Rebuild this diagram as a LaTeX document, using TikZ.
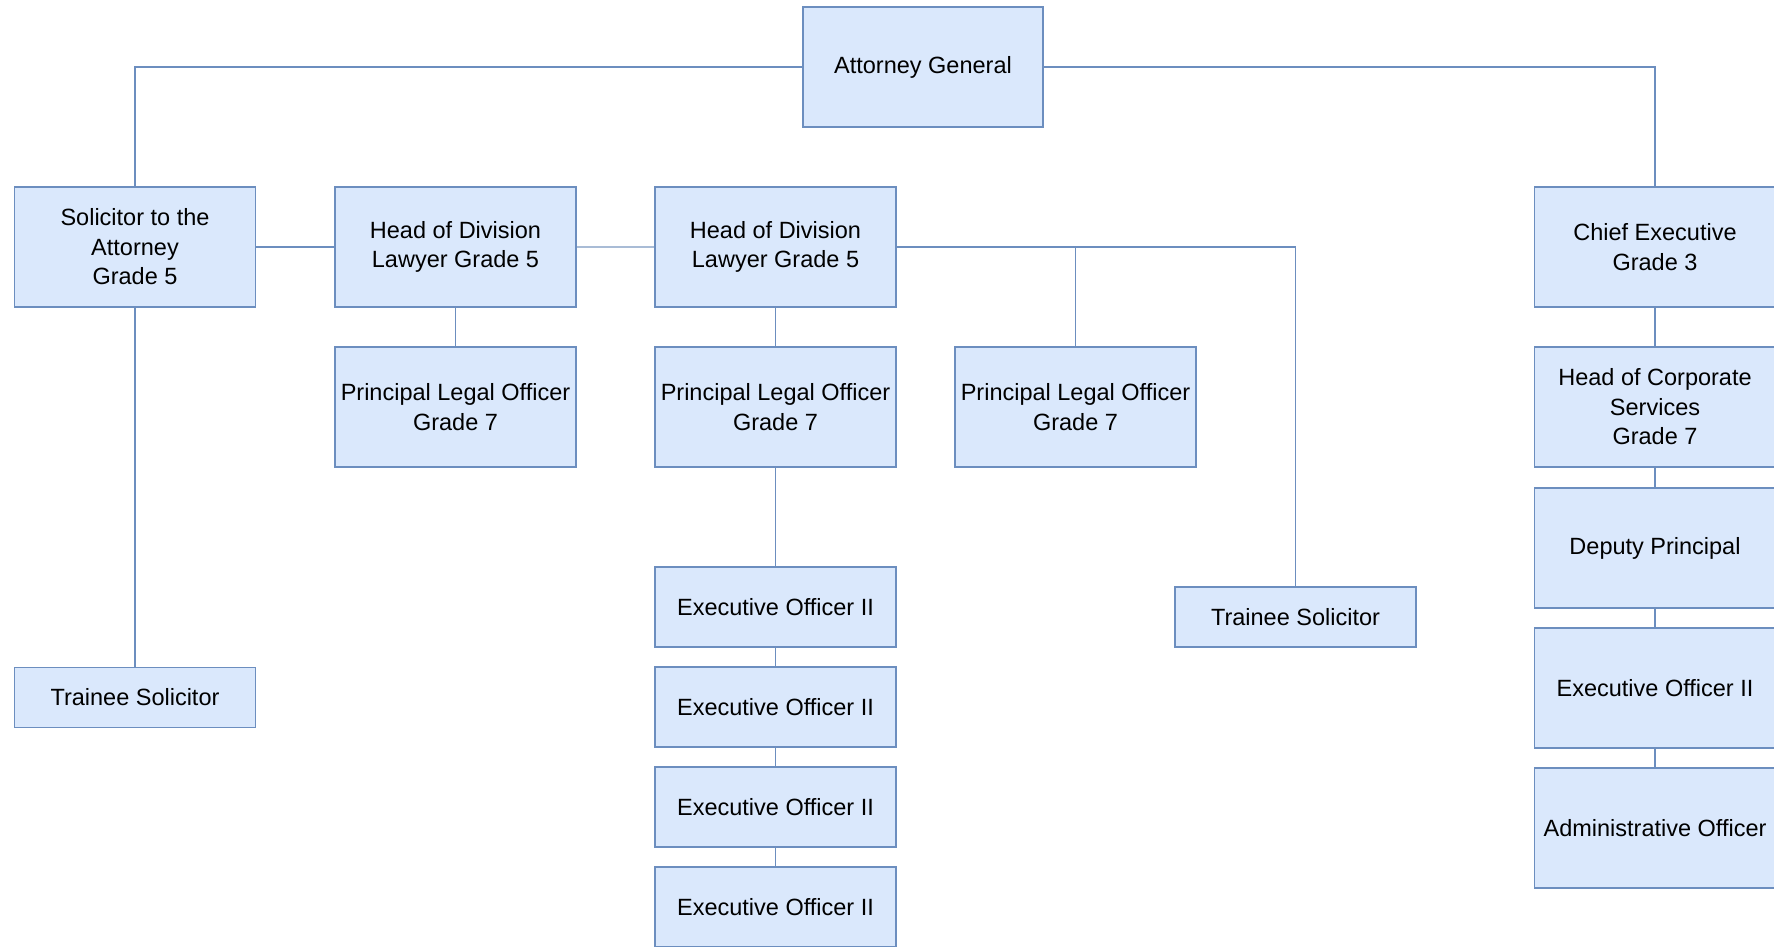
\documentclass[tikz,border=0pt]{standalone}
\usepackage{fontspec}
\setmainfont{Liberation Sans}
\definecolor{fillc}{HTML}{DAE8FC}
\definecolor{bordc}{HTML}{6C8EBF}
\definecolor{softc}{HTML}{A9BCD6}
\begin{document}
\begin{tikzpicture}[x=1pt,y=-1pt,
  box/.style={draw=bordc, fill=fillc, line width=1.5pt, align=center, inner sep=0pt,
    font=\fontsize{23.5}{29.5}\selectfont, text=black, minimum width=241pt, minimum height=120pt},
  shortbox/.style={box, minimum height=80pt},
  flatbox/.style={box, minimum height=60pt},
  link/.style={draw=bordc, line width=1.5pt},
  softlink/.style={draw=softc, line width=2.5pt}]
\useasboundingbox (0,0) rectangle (1774,947);
\fill[white] (0,0) rectangle (1774,947);
\clip (0,0) rectangle (1774,947);

\node[box, minimum width=240pt] (ag) at (923,67) {Attorney General};
\node[box] (sol) at (135,247) {Solicitor to the\\Attorney\\Grade 5};
\node[box] (hod1) at (455.5,247) {Head of Division\\Lawyer Grade 5};
\node[box] (hod2) at (775.5,247) {Head of Division\\Lawyer Grade 5};
\node[box] (ce) at (1655,247) {Chief Executive\\Grade 3};

\node[box] (plo1) at (455.5,407) {Principal Legal Officer\\Grade 7};
\node[box] (plo2) at (775.5,407) {Principal Legal Officer\\Grade 7};
\node[box] (plo3) at (1075.5,407) {Principal Legal Officer\\Grade 7};
\node[box] (hocs) at (1655,407) {Head of Corporate\\Services\\Grade 7};

\node[shortbox] (eo1) at (775.5,607) {Executive Officer II};
\node[shortbox] (eo2) at (775.5,707) {Executive Officer II};
\node[shortbox] (eo3) at (775.5,807) {Executive Officer II};
\node[shortbox] (eo4) at (775.5,907) {Executive Officer II};

\node[flatbox] (trl) at (135,697.5) {Trainee Solicitor};
\node[flatbox] (trr) at (1295.5,617) {Trainee Solicitor};

\node[box] (dp) at (1655,548) {Deputy Principal};
\node[box] (eor) at (1655,688) {Executive Officer II};
\node[box] (adm) at (1655,828) {Administrative Officer};

\draw[link] (ag.west) -| (sol.north);
\draw[link] (ag.east) -| (ce.north);
\draw[link] (sol.east) -- (hod1.west);
\draw[softlink] (hod1.east) -- (hod2.west);
\draw[link] (hod2.east) -| (trr.north);
\draw[link] (plo3.north) -- (plo3.north |- hod2.east);
\draw[link] (sol.south) -- (trl.north);
\draw[link] (hod1.south) -- (plo1.north);
\draw[link] (hod2.south) -- (plo2.north);
\draw[link] (plo2.south) -- (eo1.north);
\draw[link] (eo1.south) -- (eo2.north);
\draw[link] (eo2.south) -- (eo3.north);
\draw[link] (eo3.south) -- (eo4.north);
\draw[link] (ce.south) -- (hocs.north);
\draw[link] (hocs.south) -- (dp.north);
\draw[link] (dp.south) -- (eor.north);
\draw[link] (eor.south) -- (adm.north);
\end{tikzpicture}
\end{document}
